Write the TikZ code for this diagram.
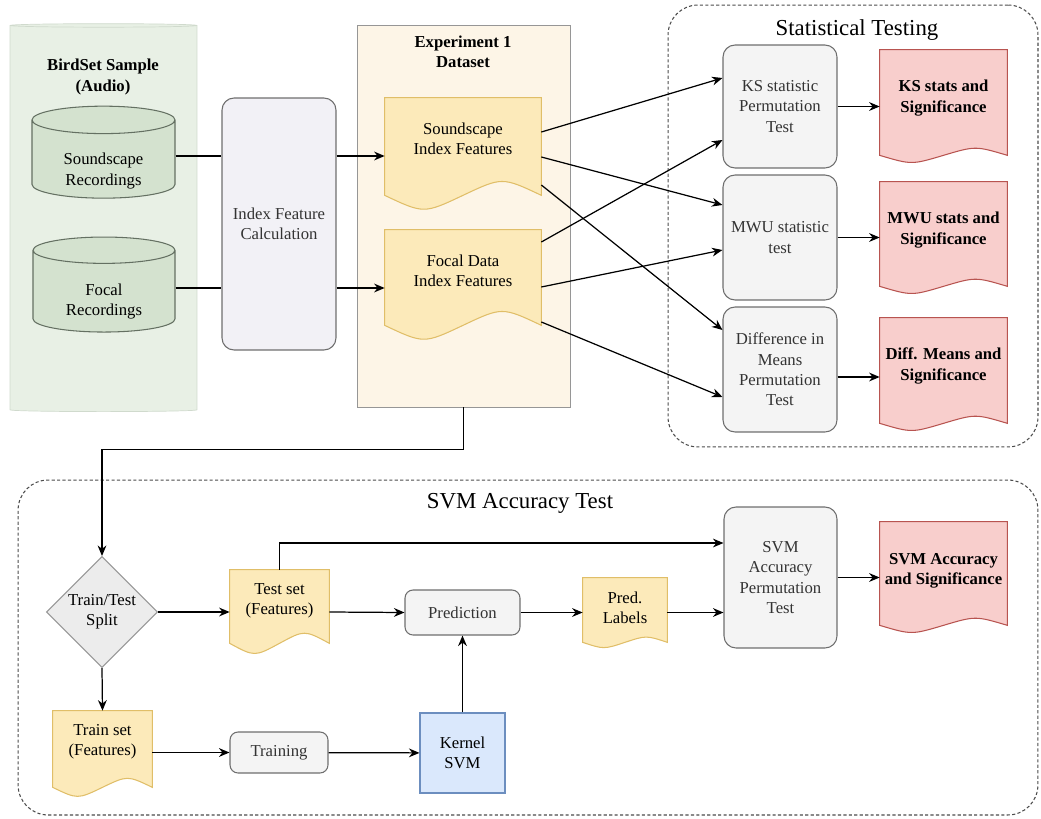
\documentclass[tikz,border=0pt]{standalone}
\usepackage{fontspec}
\setmainfont{Liberation Serif}
\usetikzlibrary{arrows.meta,shapes.geometric,calc}

\definecolor{birdfill}{RGB}{232,240,229}
\definecolor{birdline}{RGB}{208,218,205}
\definecolor{dbfill}{RGB}{212,226,207}
\definecolor{dbline}{RGB}{100,112,98}
\definecolor{calcfill}{RGB}{242,241,246}
\definecolor{procfill}{RGB}{244,244,244}
\definecolor{procline}{RGB}{110,110,110}
\definecolor{expfill}{RGB}{253,245,231}
\definecolor{expline}{RGB}{150,150,150}
\definecolor{featfill}{RGB}{252,234,186}
\definecolor{featline}{RGB}{224,190,104}
\definecolor{resfill}{RGB}{248,206,204}
\definecolor{resline}{RGB}{184,84,80}
\definecolor{svmfill}{RGB}{218,232,252}
\definecolor{svmline}{RGB}{108,142,191}
\definecolor{splitfill}{RGB}{236,236,236}

\pgfdeclarelayer{back}
\pgfdeclarelayer{mid}
\pgfsetlayers{back,mid,main}

% wavy document outline round a named node: #3 drop of the wave line, #4 wave depth
\newcommand{\docshape}[4]{%
  \path[#2] let \p1=(#1.south west), \p2=(#1.north east), \n1={\x2-\x1} in
    (\x1,\y2) -- (\x2,\y2) -- (\x2,\y1-#3)
    .. controls (\x2-0.25*\n1,\y1-#3+#4) .. (\x1+0.5*\n1,\y1-#3)
    .. controls (\x1+0.25*\n1,\y1-#3-#4) .. (\x1,\y1-#3) -- cycle;}

\begin{document}
\begin{tikzpicture}[x=0.02cm, y=-0.02cm,
    every node/.style={font=\fontsize{9.5}{11.6}\selectfont},
    title/.style={align=center, font=\fontsize{9.5}{11.6}\selectfont\bfseries},
    bigtitle/.style={font=\fontsize{13}{15}\selectfont},
    arr/.style={-{Stealth[length=6pt,width=5pt]}, line width=0.7pt},
    link/.style={line width=0.7pt},
    proc/.style={draw=procline, fill=procfill, rounded corners=0.24cm,
                 align=center, text=black!80, line width=0.6pt},
    doc/.style={align=center, inner sep=0pt},
    featdoc/.style={fill=featfill, draw=featline, line width=0.6pt},
    resdoc/.style={fill=resfill, draw=resline, line width=0.6pt},
    group/.style={draw=black!70, dash pattern=on 1.8pt off 1.3pt,
                  rounded corners=0.6cm, line width=0.6pt},
    db/.style={cylinder, shape border rotate=90, aspect=0.3, draw=dbline,
               fill=dbfill, align=center, inner ysep=0pt, line width=0.6pt}]
    \useasboundingbox (0,0) rectangle (1041,818);

    % containers
    \begin{pgfonlayer}{back}
        \node[group, minimum width=7.4cm, minimum height=8.84cm] (stats) at (853,226) {};
        \node[group, minimum width=20.4cm, minimum height=6.7cm] (svmgroup) at (528,647.5) {};
        \node[cylinder, shape border rotate=90, aspect=0.3, draw=birdline, fill=birdfill,
              minimum width=3.74cm, minimum height=7.76cm] (bird) at (103.5,219) {};
        \node[draw=expline, fill=expfill, minimum width=4.26cm, minimum height=7.64cm]
            (exp) at (463.5,216) {};
    \end{pgfonlayer}

    \node[title] (birdtitle) at (103,77) {BirdSet Sample\\(Audio)};
    \node[title] (exptitle) at (463,52) {Experiment 1\\Dataset};
    \node[bigtitle] (statstitle) at (857,30) {Statistical Testing};
    \node[bigtitle] (svmtitle) at (520,503) {SVM Accuracy Test};

    % inputs and features
    \node[db, minimum width=2.86cm, minimum height=1.84cm, text height=27pt, text depth=0.8pt]
        (sound) at (103.5,162) {Soundscape\\Recordings};
    \node[db, minimum width=2.84cm, minimum height=1.9cm, text height=26.5pt, text depth=1.8pt]
        (focal) at (104,294) {Focal\\Recordings};
    \node[proc, fill=calcfill, minimum width=2.28cm, minimum height=5.04cm] (calc) at (279,224) {Index Feature\\Calculation};
    \node[doc, minimum width=3.12cm, minimum height=1.64cm] (sfeat) at (463,139) {Soundscape\\Index Features};
    \node[doc, minimum width=3.12cm, minimum height=1.64cm] (ffeat) at (463,271) {Focal Data\\Index Features};

    % statistical tests
    \node[proc, minimum width=2.28cm, minimum height=2.46cm] (ks) at (780,106.5) {KS statistic\\Permutation\\Test};
    \node[proc, minimum width=2.28cm, minimum height=2.5cm] (mwu) at (780,237.5) {MWU statistic\\test};
    \node[proc, minimum width=2.28cm, minimum height=2.5cm] (diff) at (780,369.5) {Difference in\\Means\\Permutation\\Test};
    \node[doc, font=\fontsize{9.5}{11.6}\selectfont\bfseries, minimum width=2.54cm, minimum height=1.92cm] (ksres) at (943.5,98) {KS stats and\\Significance};
    \node[doc, font=\fontsize{9.5}{11.6}\selectfont\bfseries, minimum width=2.54cm, minimum height=1.92cm] (mwures) at (943.5,230) {MWU stats and\\Significance};
    \node[doc, font=\fontsize{9.5}{11.6}\selectfont\bfseries, minimum width=2.54cm, minimum height=1.92cm] (diffres) at (943.5,366) {Diff. Means and\\Significance};

    % svm part
    \node[diamond, aspect=1, draw=expline, fill=splitfill, align=center, inner sep=0pt,
          line width=0.6pt, minimum width=2.22cm, minimum height=2.22cm] (split) at (102,612) {Train/Test\\Split};
    \node[doc, minimum width=1.98cm, minimum height=1.24cm] (test) at (279.5,601) {Test set\\(Features)};
    \node[doc, minimum width=1.98cm, minimum height=1.22cm] (train) at (102.5,741.5) {Train set\\(Features)};
    \node[proc, rounded corners=0.16cm, minimum width=2.3cm, minimum height=0.9cm] (pred) at (462.5,612.5) {Prediction};
    \node[proc, rounded corners=0.16cm, minimum width=1.96cm, minimum height=0.82cm] (training) at (279,752.5) {Training};
    \node[draw=svmline, fill=svmfill, align=center, line width=0.6pt,
          minimum width=1.7cm, minimum height=1.6cm] (kernel) at (462.5,753) {Kernel\\SVM};
    \node[doc, minimum width=1.68cm, minimum height=1.2cm] (labels) at (625,608) {Pred.\\Labels};
    \node[proc, minimum width=2.26cm, minimum height=2.82cm] (svmtest) at (780.5,577.5) {SVM\\Accuracy\\Permutation\\Test};
    \node[doc, font=\fontsize{9.5}{11.6}\selectfont\bfseries, minimum width=2.54cm, minimum height=1.96cm] (svmres) at (943.5,571) {SVM Accuracy\\and Significance};

    \begin{pgfonlayer}{mid}
        \docshape{sfeat}{featdoc}{0.3cm}{0.37cm}
        \docshape{ffeat}{featdoc}{0.26cm}{0.37cm}
        \docshape{test}{featdoc}{0.22cm}{0.27cm}
        \docshape{train}{featdoc}{0.3cm}{0.24cm}
        \docshape{labels}{featdoc}{0.08cm}{0.14cm}
        \docshape{ksres}{resdoc}{0.18cm}{0.19cm}
        \docshape{mwures}{resdoc}{0.16cm}{0.19cm}
        \docshape{diffres}{resdoc}{0.18cm}{0.19cm}
        \docshape{svmres}{resdoc}{0.1cm}{0.19cm}
    \end{pgfonlayer}

    % connectors
    \coordinate (soundout) at ([yshift=0.12cm]sound.east);
    \coordinate (focalout) at ([yshift=0.12cm]focal.east);
    \draw[link] (soundout) -- (soundout -| calc.west);
    \draw[link] (focalout) -- (focalout -| calc.west);
    \draw[arr] (calc.east |- soundout) -- (soundout -| sfeat.west);
    \draw[arr] (calc.east |- focalout) -- (focalout -| ffeat.west);

    \draw[arr] ([yshift=0.14cm]sfeat.east) -- ([yshift=0.57cm]ks.west);
    \draw[arr] ([yshift=-0.36cm]sfeat.east) -- ([yshift=0.65cm]mwu.west);
    \draw[arr] ([yshift=-0.92cm]sfeat.east) -- ([yshift=0.79cm]diff.west);
    \draw[arr] ([yshift=0.58cm]ffeat.east) -- ([yshift=-0.67cm]ks.west);
    \draw[arr] ([yshift=-0.32cm]ffeat.east) -- ([yshift=-0.25cm]mwu.west);
    \draw[arr] ([yshift=-1.02cm]ffeat.east) -- ([yshift=-0.55cm]diff.west);

    \draw[arr] (ks.east) -- (ks.east -| ksres.west);
    \draw[arr] (mwu.east) -- (mwu.east -| mwures.west);
    \draw[arr] ([yshift=-0.15cm]diff.east) -- ([yshift=-0.15cm]diff.east -| diffres.west);

    \draw[arr] (exp.south) -- ++(0,42) -| (split.north);
    \draw[arr] (split.east) -- (split.east -| test.west);
    \draw[arr] (split.east -| test.east) -- (pred.west);
    \draw[arr] (pred.east) -- (pred.east -| labels.west);
    \draw[arr] (pred.east -| labels.east) -- (pred.east -| svmtest.west);
    \draw[arr] (test.north) |- ([yshift=0.69cm]svmtest.west);
    \draw[arr] (svmtest.east) -- (svmtest.east -| svmres.west);
    \draw[arr] (split.south) -- (train.north);
    \draw[arr] (training.west -| train.east) -- (training.west);
    \draw[arr] (training) -- (kernel);
    \draw[arr] (kernel) -- (pred);
\end{tikzpicture}
\end{document}
